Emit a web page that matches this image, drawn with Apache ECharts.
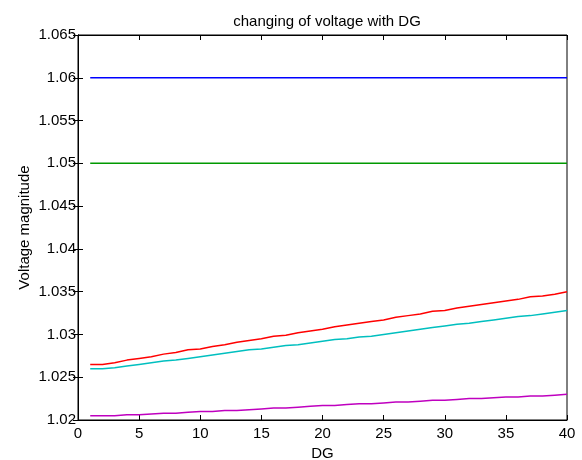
<!DOCTYPE html>
<html>
<head>
<meta charset="utf-8">
<script src="https://cdn.jsdelivr.net/npm/echarts@6/dist/echarts.min.js"></script>
<style>
  html, body { margin: 0; padding: 0; background: #fff; }
  #chart { width: 582px; height: 460px; }
</style>
</head>
<body>
<div id="chart"></div>
<script>
// DG index (1..40)
const dg = Array.from({ length: 40 }, (_, i) => i + 1);

// Bus voltage magnitudes per DG case
const busBlue = [1.06,1.06,1.06,1.06,1.06,1.06,1.06,1.06,1.06,1.06,1.06,1.06,1.06,1.06,1.06,1.06,1.06,1.06,1.06,1.06,
                 1.06,1.06,1.06,1.06,1.06,1.06,1.06,1.06,1.06,1.06,1.06,1.06,1.06,1.06,1.06,1.06,1.06,1.06,1.06,1.06];
const busGreen = [1.05,1.05,1.05,1.05,1.05,1.05,1.05,1.05,1.05,1.05,1.05,1.05,1.05,1.05,1.05,1.05,1.05,1.05,1.05,1.05,
                  1.05,1.05,1.05,1.05,1.05,1.05,1.05,1.05,1.05,1.05,1.05,1.05,1.05,1.05,1.05,1.05,1.05,1.05,1.05,1.05];
const busRed = [1.0265,1.0265,1.0267,1.0270,1.0272,1.0274,1.0277,1.0279,1.0282,1.0283,
                1.0286,1.0288,1.0291,1.0293,1.0295,1.0298,1.0299,1.0302,1.0304,1.0306,
                1.0309,1.0311,1.0313,1.0315,1.0317,1.0320,1.0322,1.0324,1.0327,1.0328,
                1.0331,1.0333,1.0335,1.0337,1.0339,1.0341,1.0344,1.0345,1.0347,1.0350];
const busCyan = [1.0260,1.0260,1.0261,1.0263,1.0265,1.0267,1.0269,1.0270,1.0272,1.0274,
                 1.0276,1.0278,1.0280,1.0282,1.0283,1.0285,1.0287,1.0288,1.0290,1.0292,
                 1.0294,1.0295,1.0297,1.0298,1.0300,1.0302,1.0304,1.0306,1.0308,1.0310,
                 1.0312,1.0313,1.0315,1.0317,1.0319,1.0321,1.0322,1.0324,1.0326,1.0328];
const busMagenta = [1.0205,1.0205,1.0205,1.0206,1.0206,1.0207,1.0208,1.0208,1.0209,1.0210,
                    1.0210,1.0211,1.0211,1.0212,1.0213,1.0214,1.0214,1.0215,1.0216,1.0217,
                    1.0217,1.0218,1.0219,1.0219,1.0220,1.0221,1.0221,1.0222,1.0223,1.0223,
                    1.0224,1.0225,1.0225,1.0226,1.0227,1.0227,1.0228,1.0228,1.0229,1.0230];

const font = 'Liberation Sans, Arial, sans-serif';
const pair = ys => dg.map((x, i) => [x, ys[i]]);
const fmtY = v => String(parseFloat(v.toFixed(3)));

const tickStyle = { show: true, inside: true, length: 5, lineStyle: { color: '#000', width: 1 } };
const lineAxis = { show: true, lineStyle: { color: '#000', width: 1 } };
const txt = { fontFamily: font, fontSize: 15, color: '#000' };

const chart = echarts.init(document.getElementById('chart'), null, { renderer: 'canvas' });
chart.setOption({
  animation: false,
  backgroundColor: '#fff',
  title: {
    text: 'changing of voltage with DG',
    left: 322, top: 9, textAlign: 'center',
    textStyle: Object.assign({ fontWeight: 'normal' }, txt)
  },
  grid: {
    left: 78, right: 15, top: 35, bottom: 40,
    outerBoundsMode: 'none', containLabel: false,
    show: true, borderColor: '#000', borderWidth: 1, backgroundColor: '#fff'
  },
  xAxis: [{
    type: 'value', min: 0, max: 40, interval: 5,
    name: 'DG', nameLocation: 'middle', nameGap: 26, nameMoveOverlap: false,
    nameTextStyle: txt,
    axisLine: lineAxis, axisTick: tickStyle, splitLine: { show: false },
    axisLabel: Object.assign({ margin: 6 }, txt)
  }, {
    type: 'value', min: 0, max: 40, interval: 5, position: 'top',
    axisLine: lineAxis, axisTick: tickStyle, splitLine: { show: false },
    axisLabel: { show: false }
  }],
  yAxis: [{
    type: 'value', min: 1.02, max: 1.065, interval: 0.005,
    name: 'Voltage magnitude', nameLocation: 'middle', nameGap: 46, nameMoveOverlap: false,
    nameTextStyle: txt,
    axisLine: lineAxis, axisTick: tickStyle, splitLine: { show: false },
    axisLabel: Object.assign({ margin: 2, formatter: fmtY }, txt)
  }, {
    type: 'value', min: 1.02, max: 1.065, interval: 0.005, position: 'right',
    axisLine: lineAxis, axisTick: tickStyle, splitLine: { show: false },
    axisLabel: { show: false }
  }],
  series: [
    { name: 'bus1', type: 'line', data: pair(busBlue), color: '#0000ff' },
    { name: 'bus2', type: 'line', data: pair(busGreen), color: '#009900' },
    { name: 'bus3', type: 'line', data: pair(busRed), color: '#ff0000' },
    { name: 'bus4', type: 'line', data: pair(busCyan), color: '#00bfbf' },
    { name: 'bus5', type: 'line', data: pair(busMagenta), color: '#bf00bf' }
  ].map(s => Object.assign(s, { showSymbol: false, symbol: 'none', lineStyle: { width: 1.5, color: s.color } }))
});
</script>
</body>
</html>
